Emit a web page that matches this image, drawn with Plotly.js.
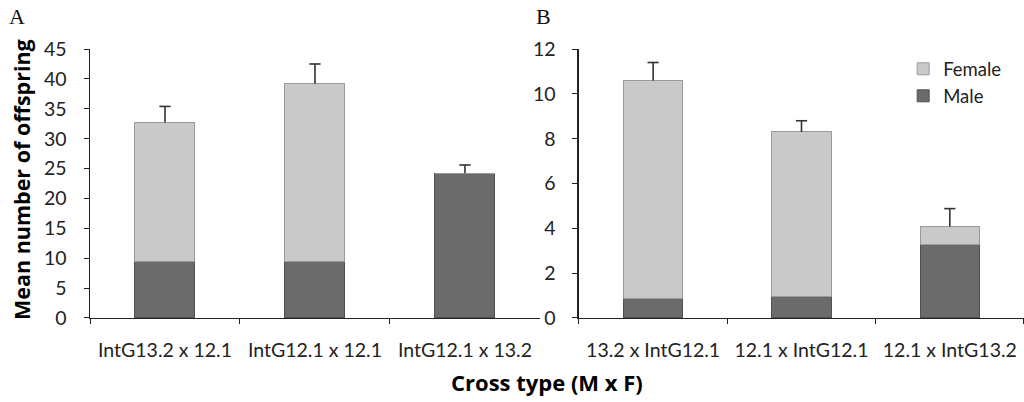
<!DOCTYPE html>
<html>
<head>
<meta charset="utf-8">
<script src="https://cdn.plot.ly/plotly-3.0.1.min.js"></script>
<style>html,body{margin:0;padding:0;background:#fff;}#chart{width:1024px;height:402px;}</style>
</head>
<body>
<div id="chart"></div>
<script>
// Panel A
const catsA = ["IntG13.2 x 12.1", "IntG12.1 x 12.1", "IntG12.1 x 13.2"];
const maleA = [9.4, 9.5, 24.2];
const femaleA = [23.3, 29.7, 0];
const errA = [2.7, 3.3, 1.4];
// Panel B
const catsB = ["13.2 x IntG12.1", "12.1 x IntG12.1", "12.1 x IntG13.2"];
const maleB = [0.85, 0.94, 3.29];
const femaleB = [9.75, 7.36, 0.79];
const errB = [0.8, 0.5, 0.8];

const femaleColor = "#c9c9c9", maleColor = "#6b6b6b";
const tickFont = {family: "Lato, sans-serif", size: 19.5, color: "#222"};

function totals(m, f){ return m.map((v,i)=>v+f[i]); }

function barTraces(cats, male, female, err, xa, ya, showLeg){
  const tot = totals(male, female);
  return [
    {type:"bar", name:"Male", x:cats, y:male, xaxis:xa, yaxis:ya, width:0.4,
     marker:{color:maleColor, line:{color:"#505050", width:1}}, legendgroup:"m", showlegend:showLeg, hoverinfo:"y"},
    {type:"bar", name:"Female", x:cats, y:female, xaxis:xa, yaxis:ya, width:0.4,
     marker:{color:femaleColor, line:{color:"#9a9a9a", width:1}}, legendgroup:"f", showlegend:showLeg, hoverinfo:"y"},
    {type:"scatter", mode:"markers", x:cats, y:tot.map((t,i)=>t+err[i]), xaxis:xa, yaxis:ya,
     marker:{symbol:"line-ew", size:8, line:{color:"#333", width:1.6}}, showlegend:false, hoverinfo:"skip",
     error_y:{type:"data", array:err.map(()=>0), arrayminus:err, symmetric:false, color:"#333", thickness:1.6, width:0}}
  ];
}

const data = [].concat(
  barTraces(catsA, maleA, femaleA, errA, "x", "y", false),
  barTraces(catsB, maleB, femaleB, errB, "x2", "y2", true)
);

const xBase = {type:"category", showline:true, linecolor:"#222", linewidth:1.5, ticks:"outside", ticklen:5,
  tickcolor:"#222", tickson:"boundaries", showgrid:false, zeroline:false, tickfont:tickFont, ticklabelstandoff:14, fixedrange:true};
const yBase = {showline:true, linecolor:"#222", linewidth:1.5, ticks:"outside", ticklen:5, tickcolor:"#222",
  showgrid:false, zeroline:false, tickfont:tickFont, ticklabelstandoff:13, fixedrange:true};

const layout = {
  width:1024, height:402,
  margin:{l:0, r:0, t:0, b:0},
  paper_bgcolor:"#fff", plot_bgcolor:"#fff",
  barmode:"stack",
  xaxis: Object.assign({}, xBase, {domain:[0.0879, 0.5273], anchor:"y", range:[-0.5, 2.5]}),
  yaxis: Object.assign({}, yBase, {domain:[0.209, 0.878], anchor:"x", range:[0,45], dtick:5}),
  xaxis2: Object.assign({}, xBase, {domain:[0.5654, 1.0], anchor:"y2", range:[-0.5, 2.5]}),
  yaxis2: Object.assign({}, yBase, {domain:[0.209, 0.878], anchor:"x2", range:[0,12], dtick:2}),
  showlegend:true,
  legend:{x:0.882, y:0.875, xanchor:"left", yanchor:"top", traceorder:"reversed",
    font:{family:"Lato, sans-serif", size:18.5, color:"#222"}, bgcolor:"rgba(0,0,0,0)",
    itemwidth:30, tracegroupgap:0},
  annotations:[
    {text:"Mean number of offspring", textangle:-90, xref:"paper", yref:"paper", x:22/1024, y:(402-180)/402,
     xanchor:"center", yanchor:"middle",
     showarrow:false, font:{family:"Open Sans, sans-serif", size:21.5, color:"#000", weight:"bold"}},
    {text:"Cross type (M x F)", xref:"paper", yref:"paper", x:547/1024, y:(402-382)/402,
     xanchor:"center", yanchor:"middle",
     showarrow:false, font:{family:"Open Sans, sans-serif", size:22, color:"#000", weight:"bold"}},
    {text:"A", xref:"paper", yref:"paper", x:17/1024, y:(402-16)/402, xanchor:"center", yanchor:"middle", showarrow:false,
     font:{family:"Liberation Serif, serif", size:22, color:"#111"}},
    {text:"B", xref:"paper", yref:"paper", x:543/1024, y:(402-16)/402, xanchor:"center", yanchor:"middle", showarrow:false,
     font:{family:"Liberation Serif, serif", size:22, color:"#111"}}
  ]
};

Plotly.newPlot("chart", data, layout, {displayModeBar:false, staticPlot:true});
</script>
</body>
</html>
